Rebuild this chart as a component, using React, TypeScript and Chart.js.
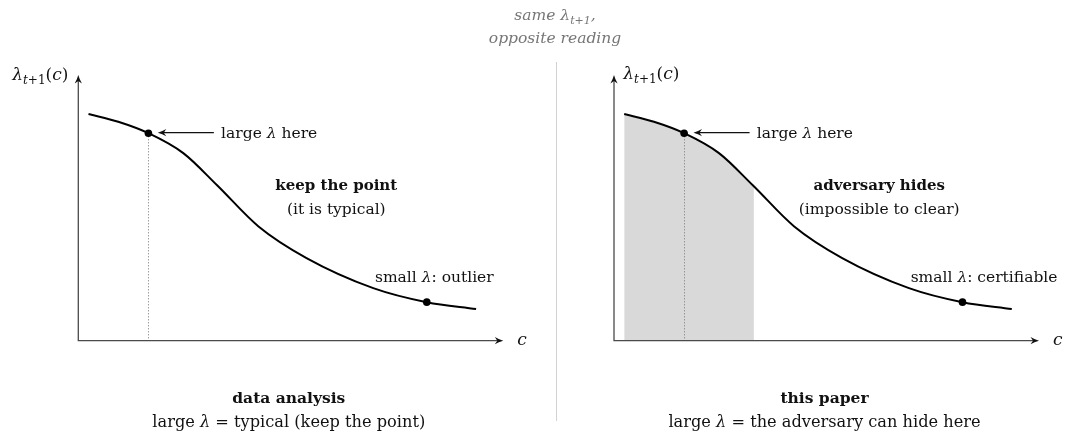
import React, { useEffect, useRef } from "react";
import { Chart, registerables } from "chart.js";

Chart.register(...registerables);

// ---------------- data ----------------
// c values along the curve and the corresponding lambda_{t+1}(c)
const curveC = [0.24, 0.94, 1.65, 2.47, 3.26, 4.24, 5.37, 6.94, 8.2, 9.36];
const curveLambda = [8.53, 8.24, 7.81, 7.06, 5.86, 4.3, 3.11, 1.98, 1.45, 1.19];
// highlighted points (large lambda, small lambda)
const markedC = [1.65, 8.2];
const markedLambda = [7.81, 1.45];
// right panel: shaded region up to this c
const shadeUpToC = 3.29;
const axisMaxC = 10;
const axisMaxLambda = 10;

// ---------------- texts ----------------
const titleLine1 = "same λ";
const titleSub = "t+1";
const titleLine2 = "opposite reading";
const largeLabel = "large λ here";
const leftHeadline = "keep the point";
const leftSubline = "(it is typical)";
const leftSmall = "small λ: outlier";
const leftCaptionBold = "data analysis";
const leftCaption = "large λ = typical (keep the point)";
const rightHeadline = "adversary hides";
const rightSubline = "(impossible to clear)";
const rightSmall = "small λ: certifiable";
const rightCaptionBold = "this paper";
const rightCaption = "large λ = the adversary can hide here";

// ---------------- layout (not data) ----------------
const FONT = "'DejaVu Serif', 'Liberation Serif', serif";
const BODY = 15.5;
const BOLD = 15;
const CAPTION = 16.2;

type Seg = { t: string; italic?: boolean; bold?: boolean; size: number; dy?: number };

function segsFor(text: string, size: number, bold = false, italicAll = false): Seg[] {
  const out: Seg[] = [];
  const parts = text.split("λ");
  parts.forEach((p, i) => {
    if (p) out.push({ t: p, size, bold, italic: italicAll });
    if (i < parts.length - 1) out.push({ t: "λ", size, bold, italic: true });
  });
  return out;
}

function fontOf(s: Seg) {
  return `${s.italic ? "italic " : ""}${s.bold ? "bold " : ""}${s.size}px ${FONT}`;
}

function drawSegs(
  ctx: CanvasRenderingContext2D,
  segs: Seg[],
  x: number,
  y: number,
  align: "left" | "center" | "right",
  color: string
) {
  let total = 0;
  const widths = segs.map((s) => {
    ctx.font = fontOf(s);
    const w = ctx.measureText(s.t).width;
    total += w;
    return w;
  });
  let cx = align === "left" ? x : align === "center" ? x - total / 2 : x - total;
  ctx.save();
  ctx.fillStyle = color;
  ctx.textAlign = "left";
  ctx.textBaseline = "alphabetic";
  segs.forEach((s, i) => {
    ctx.font = fontOf(s);
    ctx.fillText(s.t, cx, y + (s.dy || 0));
    cx += widths[i];
  });
  ctx.restore();
}

function arrowHead(ctx: CanvasRenderingContext2D, x: number, y: number, angle: number, color: string) {
  const len = 8.5;
  const half = 3.6;
  ctx.save();
  ctx.translate(x, y);
  ctx.rotate(angle);
  ctx.fillStyle = color;
  ctx.beginPath();
  ctx.moveTo(0, 0);
  ctx.quadraticCurveTo(-len * 0.55, -half * 0.35, -len, -half);
  ctx.lineTo(-len * 0.7, 0);
  ctx.lineTo(-len, half);
  ctx.quadraticCurveTo(-len * 0.55, half * 0.35, 0, 0);
  ctx.closePath();
  ctx.fill();
  ctx.restore();
}

interface PanelCfg {
  key: string;
  padding: { left: number; right: number; top: number; bottom: number };
  shade: boolean;
  labelSide: "left" | "right";
  headline: string;
  subline: string;
  headlineC: number;
  small: string;
  captionBold: string;
  caption: string;
  drawTitle: boolean;
}

const NOTE = {
  largeTextC: 3.36,
  largeBaseLambda: 7.64,
  arrowFromC: 3.19,
  arrowToC: 1.87,
  arrowLambda: 7.83,
  headBaseLambda: 5.68,
  subBaseLambda: 4.77,
  smallTextC: 6.98,
  smallBaseLambda: 2.21,
};

const leftCfg: PanelCfg = {
  key: "left",
  padding: { left: 78.3, right: 564.7, top: 75, bottom: 93.3 },
  shade: false,
  labelSide: "left",
  headline: leftHeadline,
  subline: leftSubline,
  headlineC: 6.07,
  small: leftSmall,
  captionBold: leftCaptionBold,
  caption: leftCaption,
  drawTitle: true,
};

const rightCfg: PanelCfg = {
  key: "right",
  padding: { left: 614, right: 29, top: 75, bottom: 93.3 },
  shade: true,
  labelSide: "right",
  headline: rightHeadline,
  subline: rightSubline,
  headlineC: 6.24,
  small: rightSmall,
  captionBold: rightCaptionBold,
  caption: rightCaption,
  drawTitle: false,
};

function makePlugin(cfg: PanelCfg) {
  return {
    id: "panel-" + cfg.key,
    beforeDatasetsDraw(chart: any) {
      const { ctx, chartArea } = chart;
      const xs = chart.scales.x;
      const ys = chart.scales.y;
      const x0 = xs.getPixelForValue(0);
      const y0 = ys.getPixelForValue(0);

      // shaded region under the curve (right panel)
      if (cfg.shade) {
        const meta = chart.getDatasetMeta(0);
        const line: any = meta.dataset;
        const pts: any[] = meta.data;
        if (line && pts.length) {
          line.updateControlPoints(chartArea, "x");
          const xa = xs.getPixelForValue(curveC[0]);
          const xb = xs.getPixelForValue(shadeUpToC);
          ctx.save();
          ctx.beginPath();
          ctx.rect(xa, chartArea.top, xb - xa, y0 - chartArea.top);
          ctx.clip();
          ctx.beginPath();
          line.path(ctx);
          ctx.lineTo(pts[pts.length - 1].x, y0);
          ctx.lineTo(pts[0].x, y0);
          ctx.closePath();
          ctx.fillStyle = "#d9d9d9";
          ctx.fill();
          ctx.restore();
        }
      }

      // dotted guide from the large-lambda point down to the axis
      const gx = Math.round(xs.getPixelForValue(markedC[0])) + 0.5;
      const gy = ys.getPixelForValue(markedLambda[0]);
      ctx.save();
      ctx.strokeStyle = "#7a7a7a";
      ctx.lineWidth = 0.9;
      ctx.setLineDash([1.2, 1.8]);
      ctx.beginPath();
      ctx.moveTo(gx, gy);
      ctx.lineTo(gx, y0);
      ctx.stroke();
      ctx.restore();

      // axes with arrow heads
      const xTip = xs.getPixelForValue(axisMaxC);
      const yTip = ys.getPixelForValue(axisMaxLambda);
      ctx.save();
      ctx.strokeStyle = "#4a4a4a";
      ctx.lineWidth = 1.3;
      ctx.beginPath();
      ctx.moveTo(x0, y0);
      ctx.lineTo(xTip - 3, y0);
      ctx.moveTo(x0, y0 + 0.65);
      ctx.lineTo(x0, yTip + 3);
      ctx.stroke();
      ctx.restore();
      arrowHead(ctx, xTip, y0, 0, "#111");
      arrowHead(ctx, x0, yTip, -Math.PI / 2, "#111");
    },
    afterDatasetsDraw(chart: any) {
      const { ctx } = chart;
      const xs = chart.scales.x;
      const ys = chart.scales.y;
      const x0 = xs.getPixelForValue(0);
      const y0 = ys.getPixelForValue(0);
      const xTip = xs.getPixelForValue(axisMaxC);
      const yTip = ys.getPixelForValue(axisMaxLambda);

      // axis labels
      const lab: Seg[] = [
        { t: "λ", size: 17, italic: true },
        { t: "t", size: 12, italic: true, dy: 4 },
        { t: "+1", size: 12, dy: 4 },
        { t: "(", size: 17 },
        { t: "c", size: 17, italic: true },
        { t: ")", size: 17 },
      ];
      if (cfg.labelSide === "left") drawSegs(ctx, lab, x0 - 10, yTip + 4.5, "right", "#111");
      else drawSegs(ctx, lab, x0 + 9.3, yTip + 4, "left", "#111");
      drawSegs(ctx, [{ t: "c", size: 17, italic: true }], xTip + 14, y0 + 4, "left", "#111");

      // annotation arrow
      const ay = ys.getPixelForValue(NOTE.arrowLambda);
      const axFrom = xs.getPixelForValue(NOTE.arrowFromC);
      const axTo = xs.getPixelForValue(NOTE.arrowToC);
      ctx.save();
      ctx.strokeStyle = "#111";
      ctx.lineWidth = 1.1;
      ctx.beginPath();
      ctx.moveTo(axFrom, ay);
      ctx.lineTo(axTo + 3, ay);
      ctx.stroke();
      ctx.restore();
      arrowHead(ctx, axTo, ay, Math.PI, "#111");

      // annotations
      drawSegs(ctx, segsFor(largeLabel, BODY), xs.getPixelForValue(NOTE.largeTextC), ys.getPixelForValue(NOTE.largeBaseLambda), "left", "#111");
      const hx = xs.getPixelForValue(cfg.headlineC);
      drawSegs(ctx, segsFor(cfg.headline, BOLD, true), hx, ys.getPixelForValue(NOTE.headBaseLambda), "center", "#111");
      drawSegs(ctx, segsFor(cfg.subline, BODY), hx, ys.getPixelForValue(NOTE.subBaseLambda), "center", "#111");
      drawSegs(ctx, segsFor(cfg.small, BODY), xs.getPixelForValue(NOTE.smallTextC), ys.getPixelForValue(NOTE.smallBaseLambda), "left", "#111");

      // captions under panel
      const cx = (x0 + xTip) / 2 - 2;
      drawSegs(ctx, segsFor(cfg.captionBold, BOLD + 0.5, true), cx, 403, "center", "#111");
      drawSegs(ctx, segsFor(cfg.caption, CAPTION), cx, 426.5, "center", "#111");

      if (cfg.drawTitle) {
        // divider
        ctx.save();
        ctx.strokeStyle = "#d2d2d2";
        ctx.lineWidth = 1;
        ctx.beginPath();
        ctx.moveTo(556.5, 62);
        ctx.lineTo(556.5, 421);
        ctx.stroke();
        ctx.restore();
        // title
        const t1: Seg[] = [
          { t: titleLine1, size: BODY, italic: true },
          { t: titleSub, size: 11, italic: true, dy: 4 },
          { t: ",", size: BODY, italic: true },
        ];
        drawSegs(ctx, t1, 555, 19.5, "center", "#767676");
        drawSegs(ctx, segsFor(titleLine2, BODY, false, true), 555, 43.3, "center", "#767676");
      }
    },
  };
}

function Panel({ cfg }: { cfg: PanelCfg }) {
  const ref = useRef<HTMLCanvasElement>(null);
  useEffect(() => {
    if (!ref.current) return;
    const chart = new Chart(ref.current, {
      type: "line",
      data: {
        datasets: [
          {
            label: "lambda",
            data: curveC.map((c, i) => ({ x: c, y: curveLambda[i] })),
            borderColor: "#000",
            borderWidth: 2,
            pointRadius: 0,
            cubicInterpolationMode: "monotone",
            fill: false,
          },
          {
            label: "marked",
            data: markedC.map((c, i) => ({ x: c, y: markedLambda[i] })),
            showLine: false,
            pointRadius: 3.8,
            pointBackgroundColor: "#000",
            pointBorderWidth: 0,
            borderColor: "#000",
          },
        ],
      },
      options: {
        animation: false,
        responsive: false,
        events: [],
        layout: { padding: cfg.padding },
        plugins: {
          legend: { display: false },
          tooltip: { enabled: false },
          title: { display: false },
        },
        scales: {
          x: { type: "linear", min: 0, max: axisMaxC, display: false },
          y: { type: "linear", min: 0, max: axisMaxLambda, display: false },
        },
      } as any,
      plugins: [makePlugin(cfg)],
    } as any);
    return () => chart.destroy();
  }, [cfg]);
  return (
    <canvas
      ref={ref}
      width={1068}
      height={434}
      style={{ position: "absolute", left: 0, top: 0, width: 1068, height: 434 }}
    />
  );
}

export default function App() {
  return (
    <div style={{ position: "absolute", left: 0, top: 0, width: 1068, height: 434, background: "#fff" }}>
      <Panel cfg={leftCfg} />
      <Panel cfg={rightCfg} />
    </div>
  );
}
